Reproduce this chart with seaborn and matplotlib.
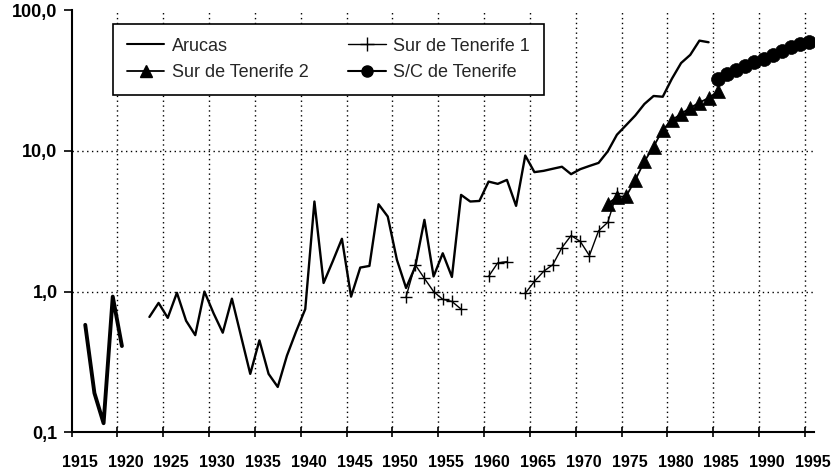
import numpy as np
import pandas as pd
import matplotlib
matplotlib.use("Agg")
import matplotlib.pyplot as plt
import seaborn as sns
from matplotlib.lines import Line2D
from matplotlib.ticker import NullLocator
from matplotlib.transforms import ScaledTranslation

# ---------------- data ----------------
arucas_early_years = [1916, 1917, 1918, 1919, 1920]
arucas_early_vals = [0.58, 0.19, 0.116, 0.92, 0.41]

arucas_years = list(range(1923, 1985))
arucas_vals = [0.66, 0.83, 0.65, 0.98, 0.62, 0.49, 1.00, 0.70, 0.51, 0.89,   # 1923-1932
               0.48, 0.26, 0.45, 0.26, 0.21, 0.35, 0.52, 0.75, 4.36, 1.15,   # 1933-1942
               1.64, 2.37, 0.92, 1.48, 1.52, 4.17, 3.41, 1.68, 1.06, 1.50,   # 1943-1952
               3.23, 1.28, 1.87, 1.27, 4.86, 4.36, 4.40, 6.04, 5.82, 6.21,   # 1953-1962
               4.06, 9.25, 7.05, 7.20, 7.45, 7.70, 6.82, 7.40, 7.80, 8.20,   # 1963-1972
               9.90, 13.0, 15.2, 17.8, 21.5, 24.5, 24.2, 32.5, 42.0, 48.0,   # 1973-1982
               60.6, 59.0]                                                   # 1983-1984

sur1_years = [1951, 1952, 1953, 1954, 1955, 1956, 1957,
              1960, 1961, 1962,
              1964, 1965, 1966, 1967, 1968, 1969, 1970, 1971, 1972, 1973, 1974]
sur1_vals = [0.92, 1.55, 1.24, 1.00, 0.88, 0.85, 0.75,
             1.28, 1.60, 1.63,
             0.97, 1.18, 1.39, 1.55, 2.05, 2.50, 2.27, 1.80, 2.70, 3.10, 5.00]
sur1_segment = ["a"] * 7 + ["b"] * 3 + ["c"] * 11

sur2_years = list(range(1973, 1986))
sur2_vals = [4.2, 4.7, 4.75, 6.2, 8.4, 10.7, 14.1, 16.5, 18.3, 20.2, 22.0, 23.7, 26.4]

sc_years = list(range(1985, 1996))
sc_vals = [32.3, 35.2, 37.5, 40.0, 42.5, 45.2, 48.2, 51.3, 54.7, 57.0, 59.2]

series_labels = ["Arucas", "Sur de Tenerife 2", "Sur de Tenerife 1", "S/C de Tenerife"]
x_tick_labels = [str(y) for y in range(1915, 2000, 5)]
y_tick_values = [0.1, 1, 10, 100]
y_tick_labels = ["0,1", "1,0", "10,0", "100,0"]

# ---------------- style ----------------
sns.set_style("ticks")
plt.rcParams["font.family"] = ["Liberation Sans", "DejaVu Sans"]

fig = plt.figure(figsize=(8.36, 4.75), dpi=100)
ax = fig.add_axes([71.5 / 836, (475 - 432.3) / 475, (814 - 71.5) / 836, (432.3 - 10) / 475])

df_early = pd.DataFrame({"year": arucas_early_years, "value": arucas_early_vals})
df_ar = pd.DataFrame({"year": arucas_years, "value": arucas_vals})
df_s1 = pd.DataFrame({"year": sur1_years, "value": sur1_vals, "seg": sur1_segment})
df_s2 = pd.DataFrame({"year": sur2_years, "value": sur2_vals})
df_sc = pd.DataFrame({"year": sc_years, "value": sc_vals})

sns.lineplot(data=df_early, x="year", y="value", ax=ax, color="black", lw=2.8,
             estimator=None, sort=False)
sns.lineplot(data=df_ar, x="year", y="value", ax=ax, color="black", lw=1.7,
             estimator=None, sort=False)
sns.lineplot(data=df_s1, x="year", y="value", units="seg", ax=ax, color="black", lw=1.0,
             estimator=None, sort=False, marker="+", markersize=8.5,
             markeredgecolor="black", markeredgewidth=1.0)
sns.lineplot(data=df_s2, x="year", y="value", ax=ax, color="black", lw=1.3,
             estimator=None, sort=False, marker="^", markersize=10,
             markeredgecolor="black", markerfacecolor="black", markeredgewidth=0.5)
sns.lineplot(data=df_sc, x="year", y="value", ax=ax, color="black", lw=1.5,
             estimator=None, sort=False, marker="o", markersize=10,
             markeredgecolor="black", markerfacecolor="black", markeredgewidth=0.5)

# ---------------- axes ----------------
ax.set_yscale("log")
ax.set_ylim(0.1, 100)
ax.set_xlim(1914.5, 1995.5)
ax.set_xticks(np.arange(1914.5, 1995, 5))
ax.set_xticklabels(x_tick_labels, fontsize=11.5, fontweight="bold")
ax.set_yticks(y_tick_values)
ax.set_yticklabels(y_tick_labels, fontsize=13, fontweight="bold")
ax.yaxis.set_minor_locator(NullLocator())
ax.xaxis.set_minor_locator(NullLocator())
ax.set_xlabel("")
ax.set_ylabel("")

ax.tick_params(axis="x", direction="inout", length=7, width=1.2, pad=13, colors="black")
ax.tick_params(axis="y", direction="out", length=6, width=1.2, pad=4, colors="black")

for lab in ax.get_xticklabels():
    lab.set_transform(lab.get_transform() + ScaledTranslation(8 / 100, 0, fig.dpi_scale_trans))

for s in ["top", "right"]:
    ax.spines[s].set_visible(False)
for s in ["left", "bottom"]:
    ax.spines[s].set_linewidth(1.5)
    ax.spines[s].set_color("black")

ax.grid(True, which="major", color="black", linestyle=(0, (1, 2.5)), linewidth=1.0)
ygl = ax.get_ygridlines()
ygl[-1].set_visible(False)
ygl[0].set_visible(False)
ax.get_xgridlines()[0].set_visible(False)
ax.set_axisbelow(True)

# ---------------- legend ----------------
handles = [
    Line2D([], [], color="black", lw=1.5),
    Line2D([], [], color="black", lw=1.3, marker="^", markersize=8, markerfacecolor="black"),
    Line2D([], [], color="black", lw=1.0, marker="+", markersize=10, markeredgewidth=1.0),
    Line2D([], [], color="black", lw=1.5, marker="o", markersize=8, markerfacecolor="black"),
]
leg = ax.legend(handles, series_labels, ncol=2, loc="upper left",
                bbox_to_anchor=(0.0559, 0.9669), borderaxespad=0, fontsize=13,
                handlelength=2.1, handletextpad=0.4, columnspacing=2.2,
                borderpad=0.75, labelspacing=0.55, fancybox=False, framealpha=1,
                edgecolor="black")
leg.get_frame().set_linewidth(1.2)

fig.savefig("out.png", dpi=100)
